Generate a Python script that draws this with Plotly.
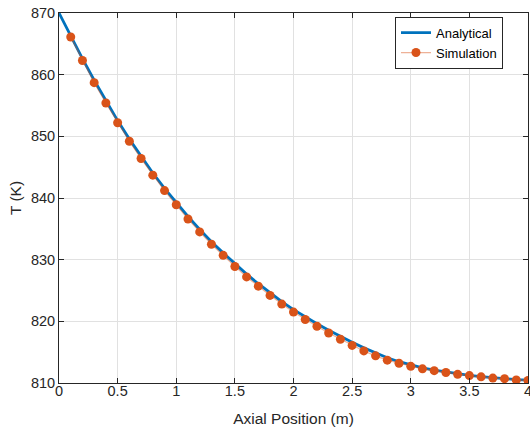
import plotly.graph_objects as go

# Analytical solution
x_analytical = [0.0, 0.1, 0.2, 0.3, 0.4, 0.5, 0.6, 0.7, 0.8, 0.9, 1.0,
                1.1, 1.2, 1.3, 1.4, 1.5, 1.6, 1.7, 1.8, 1.9, 2.0,
                2.1, 2.2, 2.3, 2.4, 2.5, 2.6, 2.7, 2.8, 2.9, 3.0,
                3.1, 3.2, 3.3, 3.4, 3.5, 3.6, 3.7, 3.8, 3.9, 4.0]
T_analytical = [870.0, 866.25, 862.6, 859.1, 855.75, 852.55, 849.55, 846.7, 844.05, 841.55, 839.25,
                837.0, 834.9, 832.9, 831.1, 829.35, 827.65, 826.1, 824.6, 823.2, 821.9,
                820.7, 819.6, 818.55, 817.55, 816.6, 815.7, 814.85, 814.1, 813.45, 812.9,
                812.45, 812.1, 811.8, 811.5, 811.25, 811.05, 810.85, 810.7, 810.55, 810.45]

# Simulation results
x_simulation = [0.1, 0.2, 0.3, 0.4, 0.5, 0.6, 0.7, 0.8, 0.9, 1.0,
                1.1, 1.2, 1.3, 1.4, 1.5, 1.6, 1.7, 1.8, 1.9, 2.0,
                2.1, 2.2, 2.3, 2.4, 2.5, 2.6, 2.7, 2.8, 2.9, 3.0,
                3.1, 3.2, 3.3, 3.4, 3.5, 3.6, 3.7, 3.8, 3.9, 4.0]
T_simulation = [866.1, 862.3, 858.7, 855.4, 852.2, 849.2, 846.4, 843.7, 841.2, 838.9,
                836.6, 834.5, 832.5, 830.7, 828.9, 827.2, 825.7, 824.2, 822.8, 821.5,
                820.3, 819.2, 818.1, 817.1, 816.1, 815.2, 814.4, 813.7, 813.2, 812.7,
                812.3, 812.0, 811.7, 811.4, 811.2, 811.0, 810.8, 810.7, 810.5, 810.4]

x_ticks = [0, 0.5, 1, 1.5, 2, 2.5, 3, 3.5, 4]
x_ticklabels = ["0", "0.5", "1", "1.5", "2", "2.5", "3", "3.5", "4"]
y_ticks = [810, 820, 830, 840, 850, 860, 870]

FONT = "Liberation Sans, Arial, Helvetica, sans-serif"
AX = "#262626"

fig = go.Figure()
fig.add_trace(go.Scatter(
    x=x_analytical, y=T_analytical, mode="lines", name="Analytical",
    line=dict(color="#0072BD", width=2.8),
))
fig.add_trace(go.Scatter(
    x=x_simulation, y=T_simulation, mode="lines+markers", name="Simulation",
    line=dict(color="rgba(217,83,25,0.45)", width=1.2),
    marker=dict(color="#D95319", size=9, line=dict(width=0)),
))

axis_common = dict(
    showline=True, linecolor=AX, linewidth=1, mirror="ticks",
    ticks="inside", ticklen=5, tickcolor=AX, tickwidth=1,
    showgrid=True, gridcolor="#e1e1e1", gridwidth=1,
    zeroline=False, automargin=False, ticklabeloverflow="allow",
    tickfont=dict(family=FONT, size=14.5, color=AX),
    title_font=dict(family=FONT, size=15.5, color=AX),
)

fig.update_xaxes(range=[0, 4], tickvals=x_ticks, ticktext=x_ticklabels,
                 ticklabelstandoff=-5,
                 title_text="Axial Position (m)", title_standoff=14, **axis_common)
fig.update_yaxes(range=[810, 870], tickvals=y_ticks,
                 title_text="T (K)", title_standoff=5, **axis_common)

fig.update_layout(
    width=530, height=432,
    margin=dict(l=59, r=2, t=13, b=49),
    paper_bgcolor="white", plot_bgcolor="white",
    font=dict(family=FONT, size=13, color="#000000"),
    showlegend=True,
    legend=dict(
        x=0.9467, y=0.99, xanchor="right", yanchor="top",
        bgcolor="white", bordercolor=AX, borderwidth=1,
        font=dict(family=FONT, size=13, color="#000000"),
        tracegroupgap=0, itemwidth=30,
    ),
)

# remove the default page margin so the figure fills the window exactly
fig.write_html("out.html",
               config={"displayModeBar": False},
               post_script="document.body.style.margin='0';document.body.style.overflow='hidden';")
